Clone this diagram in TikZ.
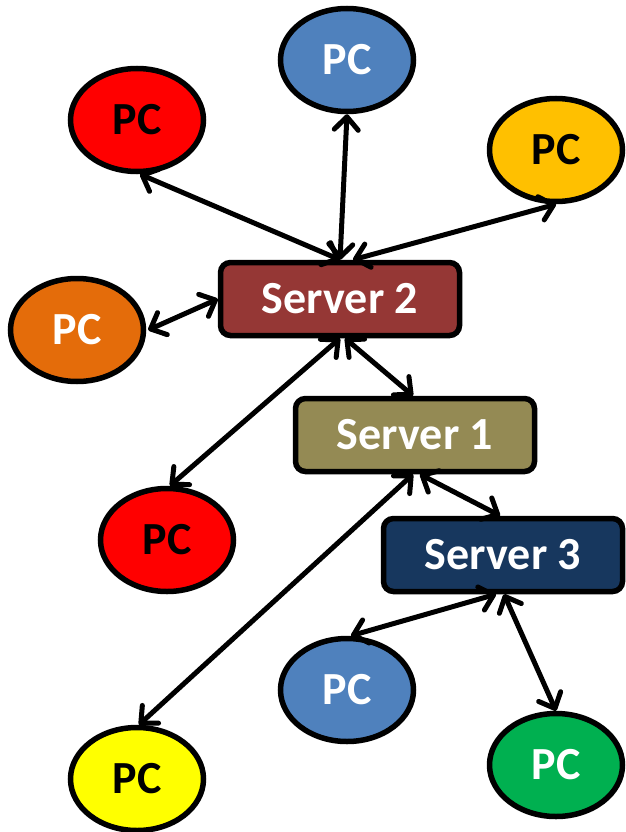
\documentclass[tikz,border=0pt]{standalone}
\usepackage{fontspec}
\setmainfont{Carlito}
\usetikzlibrary{shapes.geometric,arrows.meta}
\definecolor{pcred}{HTML}{FF0000}
\definecolor{pcblue}{HTML}{4F81BD}
\definecolor{pcgold}{HTML}{FFC000}
\definecolor{pcorange}{HTML}{E46C0A}
\definecolor{pcyellow}{HTML}{FFFF00}
\definecolor{pcgreen}{HTML}{00B050}
\definecolor{srvtwo}{HTML}{953735}
\definecolor{srvone}{HTML}{948A54}
\definecolor{srvthree}{HTML}{17375E}
\tikzset{
  pc/.style={ellipse, draw=black, line width=5.5pt, minimum width=133pt, minimum height=103pt, inner sep=0pt,
    font=\fontsize{46}{50}\selectfont\bfseries},
  srv/.style={rectangle, rounded corners=10pt, draw=black, line width=5.5pt, minimum width=239pt, minimum height=73pt,
    inner sep=0pt, text=white, font=\fontsize{46}{50}\selectfont\bfseries},
  barb/.tip={Straight Barb[length=13pt,width=24pt,line cap=round,line join=round]},
  link/.style={line width=5pt, barb-barb}
}
\begin{document}
\begin{tikzpicture}[x=1pt,y=-1pt]
\path[use as bounding box] (0,0) rectangle (625,832);
% servers
\node[srv, fill=srvtwo] (s2) at (340,299) {Server 2};
\node[srv, fill=srvone] (s1) at (415,435) {Server 1};
\node[srv, fill=srvthree] (s3) at (503,555) {Server 3};
% PCs
\node[pc, fill=pcblue, text=white] (b1) at (347,60) {PC};
\node[pc, fill=pcred, text=black] (r1) at (137,120) {PC};
\node[pc, fill=pcgold, text=black] (g1) at (556,150) {PC};
\node[pc, fill=pcorange, text=white] (o1) at (77,330) {PC};
\node[pc, fill=pcred, text=black] (r2) at (167,540) {PC};
\node[pc, fill=pcblue, text=white] (b2) at (347,690) {PC};
\node[pc, fill=pcyellow, text=black] (y1) at (137,779) {PC};
\node[pc, fill=pcgreen, text=white] (gr) at (556,765) {PC};
% links
\draw[link] (s2.north) -- (b1.south);
\draw[link] (s2.north) -- ([xshift=3pt]r1.south);
\draw[link] ([xshift=13pt]s2.north) -- (g1.south);
\draw[link] (s2.west) -- ([xshift=2pt]o1.east);
\draw[link] (s2.south) -- ([xshift=3pt]r2.north);
\draw[link] ([xshift=5pt]s2.south) -- ([xshift=-2pt]s1.north);
\draw[link] ([xshift=-2pt]s1.south) -- ([xshift=2pt]y1.north);
\draw[link] ([xshift=5pt]s1.south) -- ([xshift=-3pt]s3.north);
\draw[link] ([xshift=-7pt]s3.south) -- ([xshift=4pt]b2.north);
\draw[link] ([xshift=1pt]s3.south) -- (gr.north);
\end{tikzpicture}
\end{document}
